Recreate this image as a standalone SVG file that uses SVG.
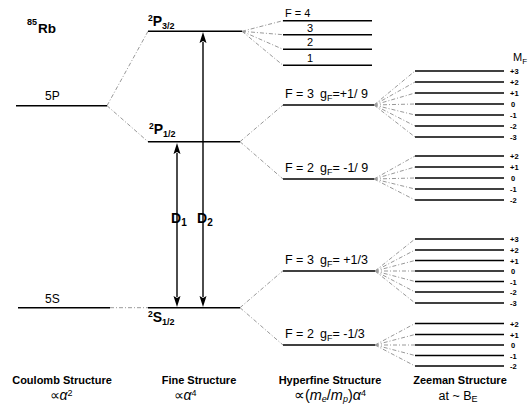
<svg xmlns="http://www.w3.org/2000/svg" width="529" height="404" viewBox="0 0 529 404">
<style>
.lv{stroke:#000;stroke-width:1.6;fill:none}
.zl{stroke:#000;stroke-width:1.5;fill:none}
.dd{stroke:#999;stroke-width:1;stroke-dasharray:4 2 1 2;fill:none}
.ar{stroke:#000;stroke-width:1.4;fill:none}
text{font-family:"Liberation Sans",Arial,sans-serif;fill:#000}
.b{font-weight:bold}
.lab{font-size:12px}
.hf{font-size:12.5px}
.mf{font-size:7.5px;font-weight:bold}
.ax{font-size:11px;font-weight:bold}
</style>
<rect width="529" height="404" fill="#fff"/>

<g id="connectors">
<path class="dd" d="M107,105.7 L148,31.3 M107,105.7 L148,141.7"/>
<path class="dd" d="M110,307.7 L148,307.7"/>
<path class="dd" d="M242,31.3 L283,20.7 M242,31.3 L283,34.7 M242,31.3 L283,49.3 M242,31.3 L283,65.3"/>
<path class="dd" d="M240,141.7 L283,105 M240,141.7 L283,179"/>
<path class="dd" d="M240,307.7 L283,270.7 M240,307.7 L283,345"/>
<path class="dd" d="M374,105 L415,71 M374,105 L415,82 M374,105 L415,93 M374,105 L415,104 M374,105 L415,115 M374,105 L415,126 M374,105 L415,137"/>
<path class="dd" d="M374,179 L415,156 M374,179 L415,167 M374,179 L415,178 M374,179 L415,189 M374,179 L415,200"/>
<path class="dd" d="M375,271 L415,239 M375,271 L415,250 M375,271 L415,260.5 M375,271 L415,271 M375,271 L415,281.5 M375,271 L415,292 M375,271 L415,303"/>
<path class="dd" d="M375,345 L415,323.5 M375,345 L415,334.5 M375,345 L415,345 M375,345 L415,355.5 M375,345 L415,366"/>
<line class="ar" x1="177" y1="153" x2="177" y2="297"/>
<path d="M177,143 L173.5,154 L177,152 L180.5,154 Z M177,307 L173.5,296 L177,298 L180.5,296 Z" fill="#000"/>
<line class="ar" x1="203" y1="42" x2="203" y2="297"/>
<path d="M203,32 L199.5,43 L203,41 L206.5,43 Z M203,307 L199.5,296 L203,298 L206.5,296 Z" fill="#000"/>
</g>

<g id="title">
<text x="27" y="25" class="b" font-size="9">85</text>
<text x="38" y="33" class="b" font-size="13.5">Rb</text>
</g>

<g id="coulomb-5P">
<line class="lv" x1="16" y1="105.7" x2="107" y2="105.7"/>
<text x="45" y="100" class="lab">5P</text>
</g>
<g id="coulomb-5S">
<line class="lv" x1="18" y1="307.7" x2="110" y2="307.7"/>
<text x="45" y="303" class="lab">5S</text>
</g>

<g id="fine-P32">
<line class="lv" x1="148" y1="31.3" x2="242" y2="31.3"/>
<text x="148" y="26" class="b"><tspan font-size="8.5" dy="-5">2</tspan><tspan font-size="14" dy="5">P</tspan><tspan font-size="9" dy="3">3/2</tspan></text>
</g>
<g id="fine-P12">
<line class="lv" x1="148" y1="141.7" x2="240" y2="141.7"/>
<text x="149" y="134" class="b"><tspan font-size="8.5" dy="-5">2</tspan><tspan font-size="14" dy="5">P</tspan><tspan font-size="9" dy="3">1/2</tspan></text>
</g>
<g id="fine-S12">
<line class="lv" x1="148" y1="307.7" x2="240" y2="307.7"/>
<text x="148" y="322" class="b"><tspan font-size="8.5" dy="-5">2</tspan><tspan font-size="14" dy="5">S</tspan><tspan font-size="9" dy="3">1/2</tspan></text>
</g>

<g id="D1"><text x="171" y="223" class="b" font-size="14">D<tspan font-size="10" dy="3">1</tspan></text></g>
<g id="D2"><text x="197" y="223" class="b" font-size="14">D<tspan font-size="10" dy="3">2</tspan></text></g>

<g id="hf-P32">
<line class="lv" x1="283" y1="20.7" x2="372" y2="20.7"/>
<line class="lv" x1="283" y1="34.7" x2="372" y2="34.7"/>
<line class="lv" x1="283" y1="49.3" x2="372" y2="49.3"/>
<line class="lv" x1="283" y1="65.3" x2="372" y2="65.3"/>
<text x="285" y="17" font-size="11">F = 4</text>
<text x="307" y="31.5" font-size="11">3</text>
<text x="307" y="46" font-size="11">2</text>
<text x="307" y="62" font-size="11">1</text>
</g>

<g id="hf-P12-F3">
<line class="lv" x1="283" y1="105" x2="374" y2="105"/>
<text x="285" y="98" class="hf">F = 3</text>
<text x="320" y="98" class="hf">g<tspan font-size="9" dy="3">F</tspan><tspan dy="-3">=+1/ 9</tspan></text>
</g>
<g id="hf-P12-F2">
<line class="lv" x1="283" y1="179" x2="374" y2="179"/>
<text x="285" y="172" class="hf">F = 2</text>
<text x="320" y="172" class="hf">g<tspan font-size="9" dy="3">F</tspan><tspan dy="-3">= -1/ 9</tspan></text>
</g>
<g id="hf-S12-F3">
<line class="lv" x1="283" y1="271" x2="375" y2="271"/>
<text x="285" y="264" class="hf">F = 3</text>
<text x="320" y="264" class="hf">g<tspan font-size="9" dy="3">F</tspan><tspan dy="-3">= +1/3</tspan></text>
</g>
<g id="hf-S12-F2">
<line class="lv" x1="283" y1="345" x2="375" y2="345"/>
<text x="285" y="338" class="hf">F = 2</text>
<text x="320" y="338" class="hf">g<tspan font-size="9" dy="3">F</tspan><tspan dy="-3">= -1/3</tspan></text>
</g>

<g id="zeeman-P12-F3">
<line class="zl" x1="415" y1="71" x2="504" y2="71"/>
<line class="zl" x1="415" y1="82" x2="504" y2="82"/>
<line class="zl" x1="415" y1="93" x2="504" y2="93"/>
<line class="zl" x1="415" y1="104" x2="504" y2="104"/>
<line class="zl" x1="415" y1="115" x2="504" y2="115"/>
<line class="zl" x1="415" y1="126" x2="504" y2="126"/>
<line class="zl" x1="415" y1="137" x2="504" y2="137"/>
<text x="510" y="74" class="mf">+3</text>
<text x="510" y="85" class="mf">+2</text>
<text x="510" y="96" class="mf">+1</text>
<text x="511" y="107" class="mf">0</text>
<text x="510" y="118" class="mf">-1</text>
<text x="510" y="129" class="mf">-2</text>
<text x="510" y="140" class="mf">-3</text>
</g>
<g id="zeeman-P12-F2">
<line class="zl" x1="415" y1="156" x2="504" y2="156"/>
<line class="zl" x1="415" y1="167" x2="504" y2="167"/>
<line class="zl" x1="415" y1="178" x2="504" y2="178"/>
<line class="zl" x1="415" y1="189" x2="504" y2="189"/>
<line class="zl" x1="415" y1="200" x2="504" y2="200"/>
<text x="510" y="159" class="mf">+2</text>
<text x="510" y="170" class="mf">+1</text>
<text x="511" y="181" class="mf">0</text>
<text x="510" y="192" class="mf">-1</text>
<text x="510" y="203" class="mf">-2</text>
</g>
<g id="zeeman-S12-F3">
<line class="zl" x1="415" y1="239" x2="504" y2="239"/>
<line class="zl" x1="415" y1="250" x2="504" y2="250"/>
<line class="zl" x1="415" y1="260.5" x2="504" y2="260.5"/>
<line class="zl" x1="415" y1="271" x2="504" y2="271"/>
<line class="zl" x1="415" y1="281.5" x2="504" y2="281.5"/>
<line class="zl" x1="415" y1="292" x2="504" y2="292"/>
<line class="zl" x1="415" y1="303" x2="504" y2="303"/>
<text x="510" y="242" class="mf">+3</text>
<text x="510" y="253" class="mf">+2</text>
<text x="510" y="263.5" class="mf">+1</text>
<text x="511" y="274" class="mf">0</text>
<text x="510" y="284.5" class="mf">-1</text>
<text x="510" y="295" class="mf">-2</text>
<text x="510" y="306" class="mf">-3</text>
</g>
<g id="zeeman-S12-F2">
<line class="zl" x1="415" y1="323.5" x2="504" y2="323.5"/>
<line class="zl" x1="415" y1="334.5" x2="504" y2="334.5"/>
<line class="zl" x1="415" y1="345" x2="504" y2="345"/>
<line class="zl" x1="415" y1="355.5" x2="504" y2="355.5"/>
<line class="zl" x1="415" y1="366" x2="504" y2="366"/>
<text x="510" y="326.5" class="mf">+2</text>
<text x="510" y="337.5" class="mf">+1</text>
<text x="511" y="348" class="mf">0</text>
<text x="510" y="358.5" class="mf">-1</text>
<text x="510" y="369" class="mf">-2</text>
</g>

<g id="MF-label"><text x="513" y="61" font-size="11">M<tspan font-size="8" dy="3">F</tspan></text></g>

<g id="axis-labels">
<text x="62" y="384" class="ax" text-anchor="middle">Coulomb Structure</text>
<text x="61" y="400" font-size="14" text-anchor="middle">∝<tspan font-style="italic">α</tspan><tspan font-size="9" dy="-4.5">2</tspan></text>
<text x="199" y="384" class="ax" text-anchor="middle">Fine Structure</text>
<text x="185" y="400" font-size="14" text-anchor="middle">∝<tspan font-style="italic">α</tspan><tspan font-size="9" dy="-4.5">4</tspan></text>
<text x="330" y="384" class="ax" text-anchor="middle">Hyperfine Structure</text>
<text x="330" y="400" font-size="14.5" text-anchor="middle">∝(<tspan font-style="italic">m</tspan><tspan font-size="9" dy="1.5" font-style="italic">e</tspan><tspan dy="-1.5">/</tspan><tspan font-style="italic">m</tspan><tspan font-size="9" dy="1.5" font-style="italic">p</tspan><tspan dy="-1.5">)</tspan><tspan font-style="italic">α</tspan><tspan font-size="9" dy="-4.5">4</tspan></text>
<text x="460" y="384" class="ax" text-anchor="middle">Zeeman Structure</text>
<text x="458" y="400" font-size="12.5" text-anchor="middle">at ~ B<tspan font-size="9" dy="1.5">E</tspan></text>
</g>
</svg>
